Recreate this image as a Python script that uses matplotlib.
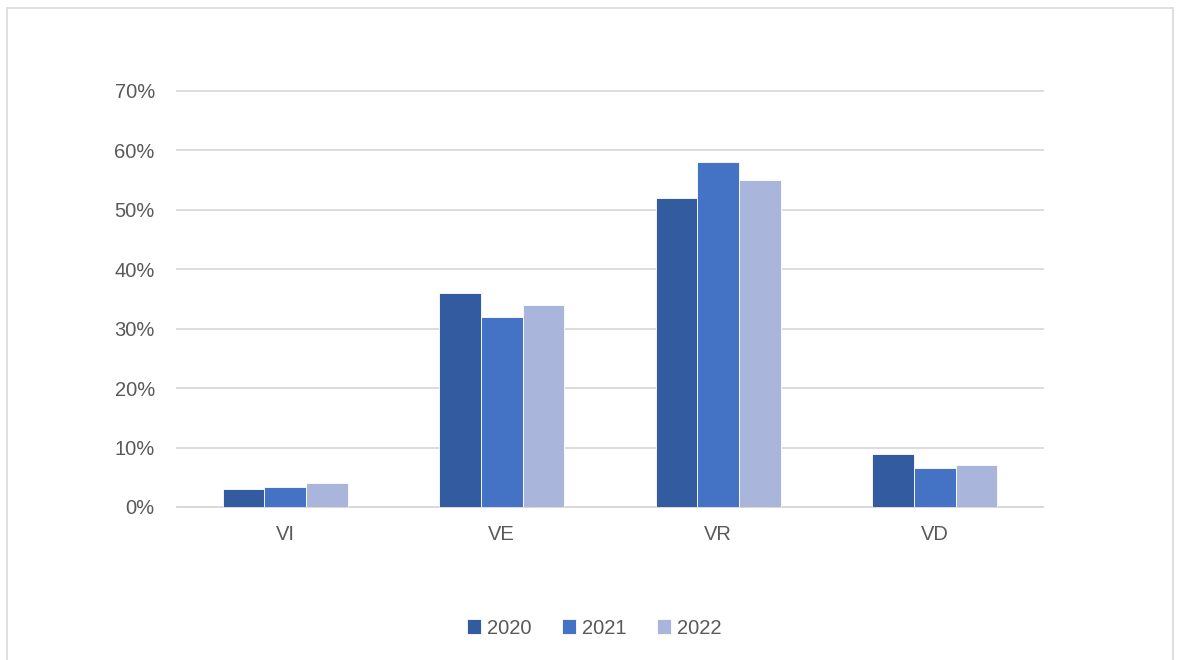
import matplotlib.pyplot as plt
import numpy as np
from matplotlib.patches import Rectangle
from matplotlib.ticker import FuncFormatter

# data
categories = ['VI', 'VE', 'VR', 'VD']
years = ['2020', '2021', '2022']
v2020 = [3.0, 36.0, 52.0, 9.0]
v2021 = [3.4, 32.0, 58.0, 6.5]
v2022 = [4.0, 34.0, 55.0, 7.0]
series = [v2020, v2021, v2022]
colors = ['#335CA0', '#4472C4', '#A9B5DA']

plt.rcParams['font.family'] = ['Liberation Sans', 'DejaVu Sans']
txt = '#595959'

fig = plt.figure(figsize=(11.77, 6.6), dpi=100)
ax = fig.add_axes([177 / 1177, 1 - 507 / 660, 866 / 1177, 416 / 660])

x = np.arange(len(categories))
w = 0.192
for i, (vals, c) in enumerate(zip(series, colors)):
    ax.bar(x + (i - 1) * w, vals, w, color=c, label=years[i],
           edgecolor='#FFFFFF', linewidth=0.6, zorder=3)

ax.set_xlim(-0.5, len(categories) - 0.5)
ax.set_ylim(0, 70)
ax.set_yticks(np.arange(0, 71, 10))
ax.yaxis.set_major_formatter(FuncFormatter(lambda v, p: f"{int(v)}%"))
ax.set_xticks(x)
ax.set_xticklabels(categories)
ax.grid(axis='y', color='#D9D9D9', linewidth=1.3, zorder=0)
for gl in ax.get_ygridlines():
    gl.set_clip_on(False)
for s in ['top', 'right', 'left']:
    ax.spines[s].set_visible(False)
ax.spines['bottom'].set_color('#D9D9D9')
ax.spines['bottom'].set_linewidth(1.3)
ax.tick_params(axis='both', length=0, labelsize=14.5, labelcolor=txt)
ax.tick_params(axis='y', pad=16)
ax.tick_params(axis='x', pad=13)

leg = fig.legend(loc='center', bbox_to_anchor=(594 / 1177, 1 - 628 / 660), ncol=3,
                 frameon=False, fontsize=14.5, handlelength=0.7, handleheight=0.7,
                 handletextpad=0.3, columnspacing=1.5)
for t in leg.get_texts():
    t.set_color(txt)

# chart area border
fig.patches.append(Rectangle((7 / 1177, -0.05), 1166 / 1177, 1.05 - 7.5 / 660,
                             transform=fig.transFigure, fill=False,
                             edgecolor='#D9D9D9', linewidth=1.2))

plt.savefig('out.png', dpi=100)
